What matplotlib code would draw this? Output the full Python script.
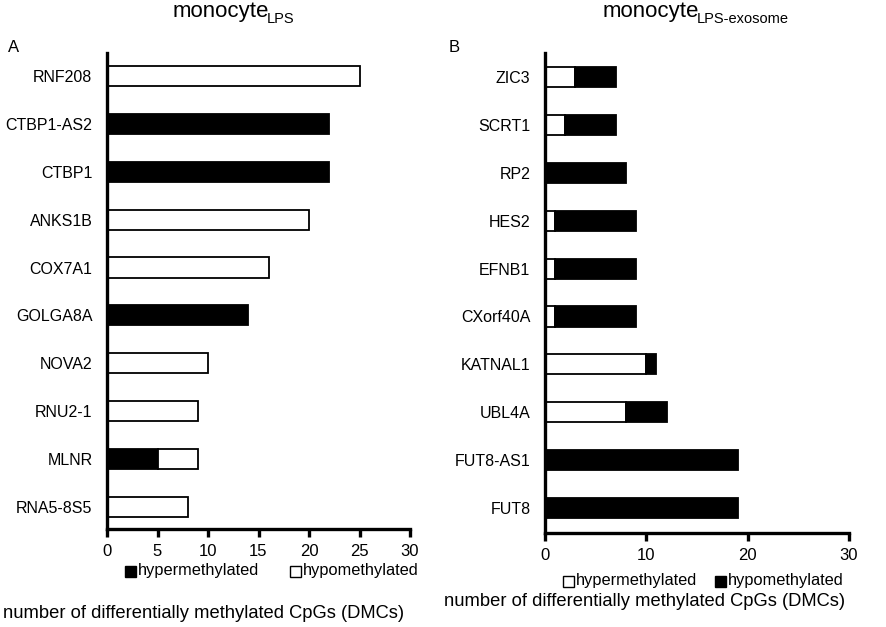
import matplotlib
matplotlib.use("Agg")
import matplotlib.pyplot as plt
from matplotlib.patches import Rectangle

plt.rcParams['font.family'] = ['Liberation Sans', 'DejaVu Sans']

# Panel A: monocyte LPS
genes_a = ["RNF208", "CTBP1-AS2", "CTBP1", "ANKS1B", "COX7A1", "GOLGA8A",
           "NOVA2", "RNU2-1", "MLNR", "RNA5-8S5"]
hyper_a = [0, 22, 22, 0, 0, 14, 0, 0, 5, 0]
hypo_a = [25, 0, 0, 20, 16, 0, 10, 9, 4, 8]

# Panel B: monocyte LPS-exosome
genes_b = ["ZIC3", "SCRT1", "RP2", "HES2", "EFNB1", "CXorf40A", "KATNAL1",
           "UBL4A", "FUT8-AS1", "FUT8"]
hyper_b = [3, 2, 0, 1, 1, 1, 10, 8, 0, 0]
hypo_b = [4, 5, 8, 8, 8, 8, 1, 4, 19, 19]

xticks_a = [0, 5, 10, 15, 20, 25, 30]
xticks_b = [0, 10, 20, 30]
xlabel = "number of differentially methylated CpGs (DMCs)"
legend_labels = ["hypermethylated", "hypomethylated"]

W, H = 886, 627
fig = plt.figure(figsize=(W / 100, H / 100), dpi=100)


def box(x0, y0, x1, y1):
    return [x0 / W, 1 - y1 / H, (x1 - x0) / W, (y1 - y0) / H]


ax_a = fig.add_axes(box(107, 53, 410, 529))
ax_b = fig.add_axes(box(545, 53, 849, 533))

bh = 0.42
ew = 1.3


def style(ax, genes, ticks, ylim):
    ax.set_xlim(0, 30)
    ax.set_ylim(*ylim)
    ax.set_yticks(range(len(genes)))
    ax.set_yticklabels(genes, fontsize=11.5)
    ax.set_xticks(ticks)
    ax.tick_params(axis='x', direction='out', length=6, width=2.4,
                   labelsize=12, pad=5)
    ax.tick_params(axis='y', length=0, pad=10.5)
    for s in ['top', 'right']:
        ax.spines[s].set_visible(False)
    for s in ['left', 'bottom']:
        ax.spines[s].set_linewidth(2.4)


ya = list(range(len(genes_a)))
# Panel A: black = hyper first, then white = hypo
ax_a.barh(ya, hyper_a, height=bh, color='black', edgecolor='black', linewidth=ew)
ax_a.barh(ya, hypo_a, left=hyper_a, height=bh, color='white', edgecolor='black', linewidth=ew)
style(ax_a, genes_a, xticks_a, (9.46, -0.48))

yb = list(range(len(genes_b)))
# Panel B: white = hyper first, then black = hypo
ax_b.barh(yb, hyper_b, height=bh, color='white', edgecolor='black', linewidth=ew)
ax_b.barh(yb, hypo_b, left=hyper_b, height=bh, color='black', edgecolor='black', linewidth=ew)
style(ax_b, genes_b, xticks_b, (9.52, -0.50))

for ax in (ax_a, ax_b):
    for p in ax.patches:
        if p.get_width() == 0:
            p.set_visible(False)


# Legends drawn manually: square + text
def legend_item(x, y, fill, label):
    s = 11
    fig.add_artist(Rectangle((x / W, 1 - (y + s / 2) / H), s / W, s / H,
                             transform=fig.transFigure, facecolor=fill,
                             edgecolor='black', linewidth=1))
    fig.text((x + s + 2) / W, 1 - y / H, label, ha='left', va='center',
             fontsize=11.8)


legend_item(125, 571, 'black', legend_labels[0])
legend_item(290, 571, 'white', legend_labels[1])
legend_item(563, 581, 'white', legend_labels[0])
legend_item(715, 581, 'black', legend_labels[1])

# x labels
fig.text(204 / W, 1 - 613 / H, xlabel, ha='center', va='center', fontsize=13.2)
fig.text(645 / W, 1 - 602 / H, xlabel, ha='center', va='center', fontsize=13.2)

# Panel letters
fig.text(8 / W, 1 - 48 / H, "A", ha='left', va='center', fontsize=12)
fig.text(449 / W, 1 - 48 / H, "B", ha='left', va='center', fontsize=12)

# Titles with subscripts
renderer = fig.canvas.get_renderer()


def title(x0, main, sub):
    t1 = fig.text(x0 / W, 1 - 17 / H, main, ha='left', va='baseline', fontsize=16)
    w1 = t1.get_window_extent(renderer).width
    fig.text((x0 + w1 - 2.5) / W, 1 - 23 / H, sub, ha='left', va='baseline',
             fontsize=10.5)


title(173, "monocyte", "LPS")
title(603, "monocyte", "LPS-exosome")

fig.savefig("out.png", dpi=100)
